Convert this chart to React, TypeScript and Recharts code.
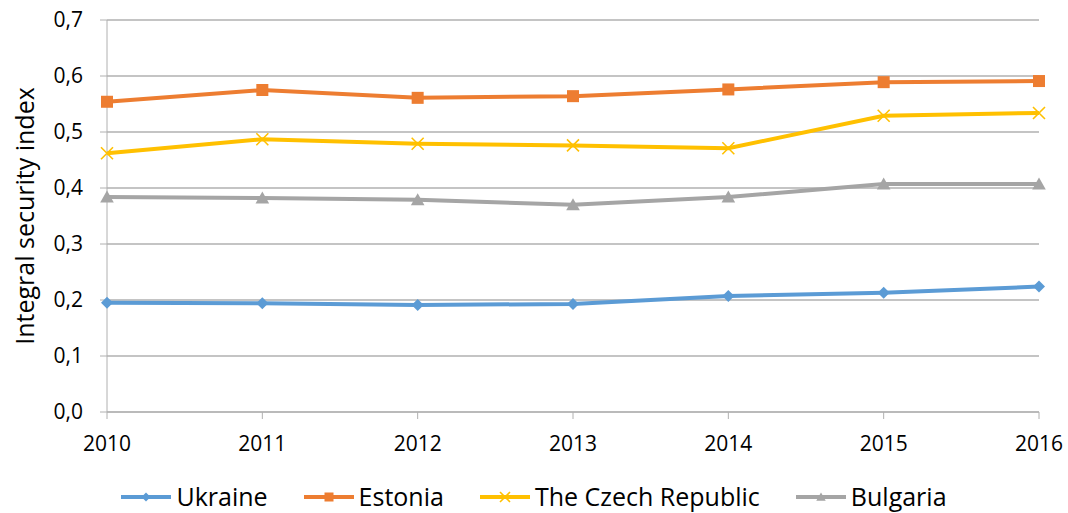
import React from 'react';
import { LineChart, Line, XAxis, YAxis, CartesianGrid, Legend, Label } from 'recharts';

const years = ['2010', '2011', '2012', '2013', '2014', '2015', '2016'];
const ukraine = [0.195, 0.194, 0.191, 0.193, 0.207, 0.213, 0.224];
const estonia = [0.554, 0.575, 0.561, 0.564, 0.576, 0.589, 0.591];
const czech = [0.462, 0.487, 0.479, 0.476, 0.471, 0.529, 0.534];
const bulgaria = [0.384, 0.382, 0.379, 0.37, 0.384, 0.407, 0.407];
const yTicks = [0, 0.1, 0.2, 0.3, 0.4, 0.5, 0.6, 0.7];

const data = years.map((year, i) => ({
  year,
  ukraine: ukraine[i],
  estonia: estonia[i],
  czech: czech[i],
  bulgaria: bulgaria[i],
}));

const FONT = '"Open Sans", sans-serif';

type Shape = 'diamond' | 'square' | 'cross' | 'triangle';

function marker(shape: Shape, cx: number, cy: number, color: string, s: number, key?: React.Key) {
  if (shape === 'diamond') {
    return (
      <path key={key} d={`M${cx},${cy - s}L${cx + s},${cy}L${cx},${cy + s}L${cx - s},${cy}Z`} fill={color} />
    );
  }
  if (shape === 'square') {
    return <rect key={key} x={cx - s} y={cy - s} width={s * 2} height={s * 2} fill={color} />;
  }
  if (shape === 'triangle') {
    return (
      <path key={key} d={`M${cx},${cy - s}L${cx + s * 1.05},${cy + s * 0.85}L${cx - s * 1.05},${cy + s * 0.85}Z`} fill={color} />
    );
  }
  return (
    <path
      key={key}
      d={`M${cx - s},${cy - s}L${cx + s},${cy + s}M${cx - s},${cy + s}L${cx + s},${cy - s}`}
      stroke={color}
      strokeWidth={1.6}
      fill="none"
    />
  );
}

const series: { key: string; name: string; color: string; shape: Shape; size: number }[] = [
  { key: 'ukraine', name: 'Ukraine', color: '#5B9BD5', shape: 'diamond', size: 6 },
  { key: 'estonia', name: 'Estonia', color: '#ED7D31', shape: 'square', size: 6 },
  { key: 'czech', name: 'The Czech Republic', color: '#FFC000', shape: 'cross', size: 6 },
  { key: 'bulgaria', name: 'Bulgaria', color: '#A5A5A5', shape: 'triangle', size: 6.5 },
];

function LegendContent() {
  return (
    <div style={{ display: 'flex', justifyContent: 'center', alignItems: 'center', gap: 36, fontFamily: FONT, fontSize: 25, color: '#000' }}>
      {series.map((s) => (
        <div key={s.key} style={{ display: 'flex', alignItems: 'center' }}>
          <svg width={50} height={20} style={{ marginRight: 5 }}>
            <line x1={0} y1={10} x2={50} y2={10} stroke={s.color} strokeWidth={4} />
            {marker(s.shape, 25, 10, s.color, s.shape === 'cross' ? 5 : 4.5)}
          </svg>
          <span style={{ lineHeight: 1 }}>{s.name}</span>
        </div>
      ))}
    </div>
  );
}

export default function App() {
  return (
    <div style={{ position: 'absolute', left: 0, top: 0, background: '#fff' }}>
      <LineChart width={1068} height={513} data={data} margin={{ top: 20, right: 29, left: 0, bottom: 0 }}>
        <CartesianGrid vertical={false} stroke="#B0B0B0" strokeWidth={1.3} />
        <XAxis
          dataKey="year"
          height={101}
          stroke="#B0B0B0"
          tickSize={7}
          tickMargin={17}
          tick={{ fill: '#000', fontSize: 21, fontFamily: FONT }}
          interval={0}
        />
        <YAxis
          width={107}
          domain={[0, 0.7]}
          ticks={yTicks}
          stroke="#B0B0B0"
          tickSize={7}
          tickMargin={17}
          tick={{ fill: '#000', fontSize: 21, fontFamily: FONT }}
          tickFormatter={(v: number) => v.toFixed(1).replace('.', ',')}
        >
          <Label
            content={() => (
              <text
                x={24}
                y={216}
                transform="rotate(-90 24 216)"
                textAnchor="middle"
                dominantBaseline="central"
                fontFamily={FONT}
                fontSize={25}
                fill="#000"
              >
                Integral security index
              </text>
            )}
          />
        </YAxis>
        <Legend
          layout="horizontal"
          verticalAlign="middle"
          align="center"
          wrapperStyle={{ top: 484, left: 0, width: 1068 }}
          content={<LegendContent />}
        />
        {series.map((s) => (
          <Line
            key={s.key}
            dataKey={s.key}
            name={s.name}
            type="linear"
            stroke={s.color}
            strokeWidth={4}
            isAnimationActive={false}
            dot={(p: any) => marker(s.shape, p.cx, p.cy, s.color, s.size, `${s.key}-${p.index}`)}
            activeDot={false}
          />
        ))}
      </LineChart>
    </div>
  );
}
